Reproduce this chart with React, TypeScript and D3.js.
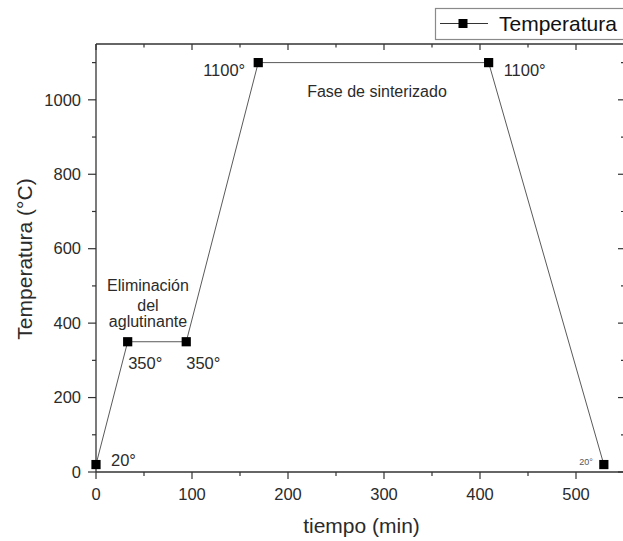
import React from "react";
import * as d3 from "d3";

// Sintering cycle: time (min) vs furnace temperature (°C)
const tiempos = [0, 33, 94, 169, 409, 529];
const temperaturas = [20, 350, 350, 1100, 1100, 20];
const xMajorTicks = [0, 100, 200, 300, 400, 500];
const yMajorTicks = [0, 200, 400, 600, 800, 1000];
const seriesName = "Temperatura";
const faseSinterizado = "Fase de sinterizado";
const faseAglutinante = ["Eliminación", "del", "aglutinante"];

const W = 623;
const H = 541;
const FONT = "'Liberation Sans', Arial, Helvetica, sans-serif";
const INK = "#2b2b2b";
const AXIS = "#333";

export default function App() {
  const x = d3.scaleLinear().domain([0, 550]).range([96, 624]);
  const y = d3.scaleLinear().domain([0, 1150]).range([472, 44]);

  const xMinor = d3.range(50, 550, 100);
  const yMinor = d3.range(100, 1150, 200);

  const pts = tiempos.map((t, i) => ({ t, v: temperaturas[i], px: x(t), py: y(temperaturas[i]) }));
  const line = d3
    .line<{ px: number; py: number }>()
    .x((d) => d.px)
    .y((d) => d.py);

  // value labels next to each marker: [dx, dy, anchor, fontSize]
  const labelPlacement: [number, number, string, number][] = [
    [15, 1, "start", 16.5],
    [0.5, 27, "start", 16.5],
    [0, 27, "start", 16.5],
    [-13, 13.5, "end", 16.5],
    [15, 13.5, "start", 16.5],
    [-11, 0.5, "end", 9],
  ];

  const x0 = x(0);
  const x1 = x(550);
  const y0 = y(0);
  const y1 = y(1150);

  return (
    <svg
      width={W}
      height={H}
      style={{ position: "absolute", left: 0, top: 0, background: "#fff" }}
      fontFamily={FONT}
    >
      <rect x={0} y={0} width={W} height={H} fill="#fff" />

      {/* frame */}
      <g stroke={AXIS} strokeWidth={1.3} fill="none">
        <line x1={x0} y1={y0} x2={x1} y2={y0} />
        <line x1={x0} y1={y0} x2={x0} y2={y1} />
        <line x1={x0} y1={y1} x2={x1} y2={y1} />
        <line x1={x1} y1={y0} x2={x1} y2={y1} />
      </g>

      {/* bottom & top x ticks */}
      <g stroke={AXIS} strokeWidth={1.2}>
        {xMajorTicks.map((t) => (
          <g key={"xb" + t}>
            <line x1={x(t)} x2={x(t)} y1={y0} y2={y0 + 7} />
            <line x1={x(t)} x2={x(t)} y1={y1} y2={y1 + 6} />
          </g>
        ))}
        {xMinor.map((t) => (
          <g key={"xm" + t}>
            <line x1={x(t)} x2={x(t)} y1={y0} y2={y0 + 4} />
            <line x1={x(t)} x2={x(t)} y1={y1} y2={y1 + 3.5} />
          </g>
        ))}
      </g>
      <g fill={INK} fontSize={16.5} textAnchor="middle">
        {xMajorTicks.map((t) => (
          <text key={"xl" + t} x={x(t)} y={500}>
            {t}
          </text>
        ))}
      </g>

      {/* left & right y ticks */}
      <g stroke={AXIS} strokeWidth={1.2}>
        {yMajorTicks.map((v) => (
          <g key={"yl" + v}>
            <line x1={x0 - 8} x2={x0} y1={y(v)} y2={y(v)} />
            <line x1={x1 - 6} x2={x1} y1={y(v)} y2={y(v)} />
          </g>
        ))}
        {yMinor.map((v) => (
          <g key={"ym" + v}>
            <line x1={x0 - 4} x2={x0} y1={y(v)} y2={y(v)} />
            <line x1={x1 - 3} x2={x1} y1={y(v)} y2={y(v)} />
          </g>
        ))}
      </g>
      <g fill={INK} fontSize={16.5} textAnchor="end">
        {yMajorTicks.map((v) => (
          <text key={"ytl" + v} x={81} y={y(v)} dy="0.35em">
            {v}
          </text>
        ))}
      </g>

      {/* axis titles */}
      <text x={361.5} y={533} fontSize={21} fill={INK} textAnchor="middle">
        tiempo (min)
      </text>
      <text
        transform={`translate(32,259) rotate(-90)`}
        fontSize={21}
        fill={INK}
        textAnchor="middle"
      >
        Temperatura (°C)
      </text>

      {/* series */}
      <path d={line(pts) ?? ""} fill="none" stroke="#5a5a5a" strokeWidth={1} />
      {pts.map((p, i) => (
        <rect key={"m" + i} x={p.px - 4.6} y={p.py - 4.6} width={9.2} height={9.2} fill="#000" />
      ))}

      {/* value annotations */}
      {pts.map((p, i) => {
        const [dx, dy, anchor, fs] = labelPlacement[i];
        return (
          <text
            key={"v" + i}
            x={p.px + dx}
            y={p.py + dy}
            fontSize={fs}
            fill={fs < 12 ? "#555" : INK}
            textAnchor={anchor}
          >
            {`${p.v}°`}
          </text>
        );
      })}

      {/* phase annotations */}
      <text x={377} y={97} fontSize={16} fill={INK} textAnchor="middle">
        {faseSinterizado}
      </text>
      <g fontSize={16} fill={INK} textAnchor="middle">
        {faseAglutinante.map((s, i) => (
          <text key={s} x={148} y={[291, 311, 327][i]}>
            {s}
          </text>
        ))}
      </g>

      {/* legend */}
      <rect x={435.5} y={8.5} width={200} height={31} fill="#fff" stroke="#8a8a8a" strokeWidth={1.2} />
      <line x1={440} x2={488} y1={23.5} y2={23.5} stroke="#333" strokeWidth={1.2} />
      <rect x={458.5} y={19} width={9} height={9} fill="#000" />
      <text x={499} y={31} fontSize={21} fill="#111">
        {seriesName}
      </text>
    </svg>
  );
}
